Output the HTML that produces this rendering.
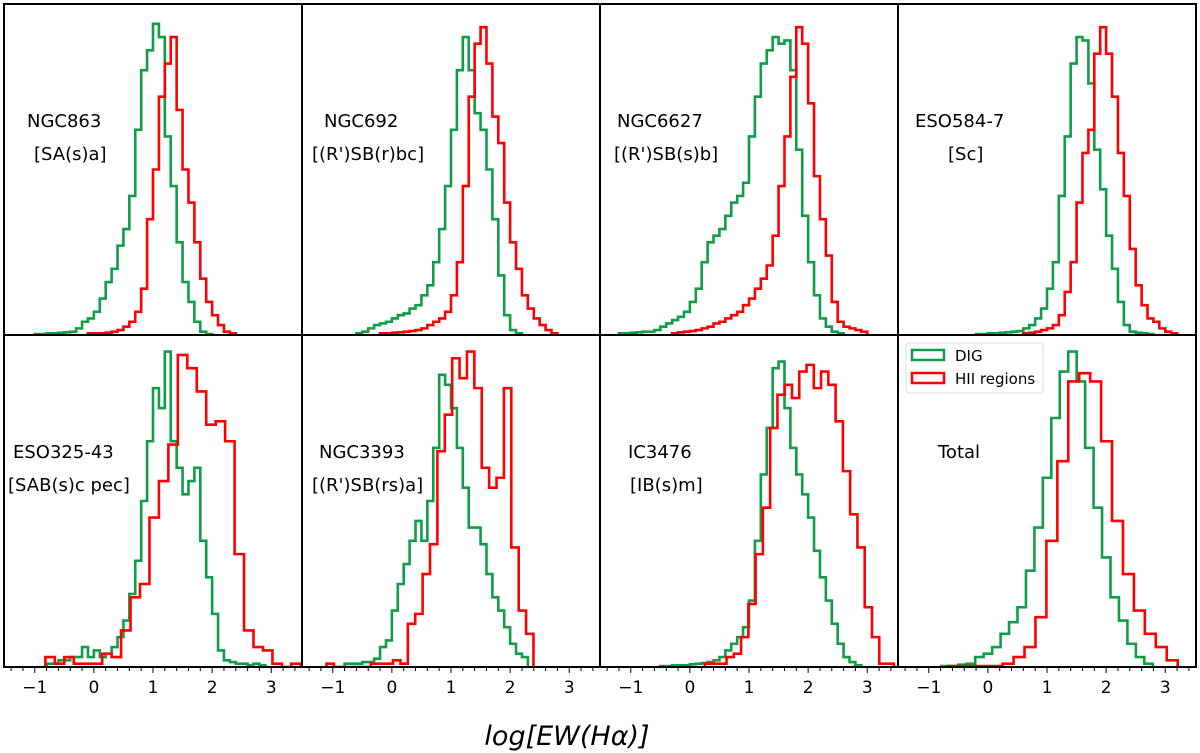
<!DOCTYPE html>
<html><head><meta charset="utf-8"><style>
html,body{margin:0;padding:0;background:#fff;}
svg{display:block;}
text{font-family:"DejaVu Sans","Liberation Sans",sans-serif;}
</style></head><body>
<svg id="chart" xmlns="http://www.w3.org/2000/svg" width="1200" height="753" viewBox="0 0 1200 753">
<g id="marks"></g>
<g id="frames"></g>
<g id="axes"></g>
<g id="labels"></g>
<g>
  <rect x="906" y="343" width="137" height="50" rx="3" fill="#fff" stroke="#ddd" stroke-width="1"/>
  <rect x="912" y="350" width="32" height="10" fill="none" stroke="#0f9d48" stroke-width="2.5"/>
  <text x="955" y="361" font-size="15">DIG</text>
  <rect x="912" y="373" width="32" height="10" fill="none" stroke="#ff0000" stroke-width="2.5"/>
  <text x="955" y="384" font-size="15">HII regions</text>
</g>
<text x="567" y="745" font-size="27" font-style="italic" text-anchor="middle">log[EW(Hα)]</text>
</svg>
<script>
// Panel data: bin start, bin width, heights (percent of panel height)
const g1Start=-1.0, g1Width=0.1;
const g1=[0.3,0.3,0.5,0.5,0.7,0.8,1,2,4,5,7,11,16,20,27,32,42,62,80,86,94,90,60,45,28,16,10,4,1,0.3];
const r1Start=-0.1, r1Width=0.1;
const r1=[0.5,0.5,0.5,0.7,1,1.5,2.5,4,7,14,35,50,72,82,90,68,50,40,28,17,10,6,3,1,0.5];
const g2Start=-0.6, g2Width=0.1;
const g2=[0.5,1,2,3,3.5,4,5,6,6.5,8,9,12,15,22,32,45,62,80,90,80,67,62,50,35,18,6,1.5,0.5];
const r2Start=-0.2, r2Width=0.1;
const r2=[0.5,0.5,0.7,0.8,1,1.2,1.5,2,3,4,5,7,12,22,45,72,88,93,82,66,58,40,28,20,12,8,5,3,1.5,0.5];
const g3Start=-1.2, g3Width=0.1;
const g3=[0.5,0.5,0.7,0.8,1,1,1.5,2.5,3.5,4.5,5.5,7,10,14,22,28,30,32,36,40,42,46,60,72,82,86,90,88,89,80,56,36,22,12,5,2.5,1,0.5];
const r3Start=-0.3, r3Width=0.1;
const r3=[0.5,0.8,1,1.2,1.5,2,2.5,3.5,4,5,6,7,9,11,14,17,21,30,45,60,78,93,88,70,48,35,24,10,4,2.5,2,1.5,1];
const g4Start=-0.2, g4Width=0.1;
const g4=[0.3,0.3,0.5,0.5,0.7,0.8,1,1.2,2,3,5,8,14,22,42,60,82,90,89,76,56,44,30,20,10,3,1,0.7,0.5,0.3];
const r4Start=0.6, r4Width=0.1;
const r4=[0.5,0.7,1,1.5,2,3,6,13,22,40,55,62,85,93,85,72,55,42,26,15,9,5,4,2,1,0.5];
const g5Start=-0.8, g5Width=0.1;
const g5=[1,1,2,2,3,3,6,3,5,3,4,6,9,14,22,32,50,68,84,78,95,68,60,52,56,60,38,27,16,5,2,1.5,1,1,0.5,1,0.5];
const r5Start=-0.82, r5Width=0.16;
const r5=[3,1,3,1,1,1,4,3,11,21,25,45,56,67,94,90,83,73,74,68,34,11,6,5,1,0,1];
const g6Start=-0.8, g6Width=0.1;
const g6=[1,1,1,1.5,1.5,2.5,6,8,17,25,31,38,44,38,50,66,88,85,78,66,54,42,42,37,28,21,17,12,7,4,3];
const r6Start=-1.105, r6Width=0.125;
const r6=[1,0,0,0,0,0,1,1,1,2,1,13,16,28,37,65,76,93,87,95,84,60,54,57,84,36,17,10];
const g7Start=-0.5, g7Width=0.1;
const g7=[0.3,0.3,0.5,0.5,0.5,0.8,1,1.2,1.5,2,3,5,7,9,12,20,38,58,72,90,92,78,66,58,52,45,35,27,20,13,7,3,1.5,0.5];
const r7Start=0.251, r7Width=0.123;
const r7=[1,1,1,3,4,9,19,34,48,72,82,85,81,89,91,84,89,85,74,59,46,36,18,9,1,1];
const g8Start=-0.786, g8Width=0.143;
const g8=[0.3,0.3,0.7,1,3,4,6,10,13.5,18,29,42,57,75,89,95,86,66,48,33,21,14,7,3,1];
const r8Start=-0.675, r8Width=0.185;
const r8=[0.3,0.3,0.3,0.3,0.3,1,3,6,15,38,62,86,88.5,86,68,44,28,17,10,6,2];
const panelNames=["NGC863","NGC692","NGC6627","ESO584-7","ESO325-43","NGC3393","IC3476","Total"];
const panelTypes=["[SA(s)a]","[(R')SB(r)bc]","[(R')SB(s)b]","[Sc]","[SAB(s)c pec]","[(R')SB(rs)a]","[IB(s)m]",""];
const majorTicks=[-1,0,1,2,3];
const tickLabels=["\u22121","0","1","2","3"];
const xMin=-1.52, xMax=3.52;

const NS="http://www.w3.org/2000/svg";
const series=[[g1Start,g1Width,g1,r1Start,r1Width,r1],[g2Start,g2Width,g2,r2Start,r2Width,r2],
[g3Start,g3Width,g3,r3Start,r3Width,r3],[g4Start,g4Width,g4,r4Start,r4Width,r4],
[g5Start,g5Width,g5,r5Start,r5Width,r5],[g6Start,g6Width,g6,r6Start,r6Width,r6],
[g7Start,g7Width,g7,r7Start,r7Width,r7],[g8Start,g8Width,g8,r8Start,r8Width,r8]];
const nameX=[27,324,617,915,13,319,628,938];
const typeX=[34,312,614,948,8,312,630,0];
const marks=document.getElementById('marks'),frames=document.getElementById('frames'),axes=document.getElementById('axes'),labels=document.getElementById('labels');
const defs=document.createElementNS(NS,'defs');document.getElementById('chart').prepend(defs);
function mk(tag,attrs,parent){const e=document.createElementNS(NS,tag);for(const k in attrs)e.setAttribute(k,attrs[k]);parent.appendChild(e);return e;}
for(let p=0;p<8;p++){
  const col=p%4,row=Math.floor(p/4);
  const left=4+col*298,w=298;
  const top=row===0?4:335,bottom=row===0?335:667,h=bottom-top;
  const xs=d=>left+(d-xMin)/(xMax-xMin)*w;
  const ys=v=>bottom-v/100*h;
  const cp=mk('clipPath',{id:'c'+p},defs);mk('rect',{x:left,y:top,width:w,height:h},cp);
  const s=series[p];
  [[s[0],s[1],s[2],'#0f9d48','dig'],[s[3],s[4],s[5],'#ff0000','hii']].forEach(([st,bw,vals,color,nm])=>{
    let d='M'+xs(st)+','+bottom;
    vals.forEach((v,i)=>{d+=' L'+xs(st+i*bw)+','+ys(v)+' L'+xs(st+(i+1)*bw)+','+ys(v);});
    d+=' L'+xs(st+vals.length*bw)+','+bottom;
    const path=mk('path',{d:d,fill:'none',stroke:color,'stroke-width':2.6,'stroke-linejoin':'miter','clip-path':'url(#c'+p+')'},marks);
    
    
  });
  const fr=mk('rect',{x:left,y:top,width:w,height:h,fill:'none',stroke:'#000','stroke-width':2},frames);
  
  
  const cy1=row===0?127:458, cy2=row===0?160:491;
  const t1=mk('text',{x:nameX[p],y:cy1,'font-size':18},labels);t1.textContent=panelNames[p];
  
  
  if(panelTypes[p]){const t2=mk('text',{x:typeX[p],y:cy2,'font-size':18},labels);t2.textContent=panelTypes[p];
    
    }
  if(row===1){
    for(let k=-7;k<=17;k++){const v=k*0.2;const x=xs(v);
      const tk=mk('line',{x1:x,x2:x,y1:bottom,y2:bottom+(k%5===0?6:4),stroke:'#000','stroke-width':1},axes);
      
      }
    majorTicks.forEach((v,i)=>{const tl=mk('text',{x:xs(v),y:bottom+26,'font-size':17,'text-anchor':'middle'},axes);tl.textContent=tickLabels[i];
      
      });
  }
}
</script>
</body></html>
